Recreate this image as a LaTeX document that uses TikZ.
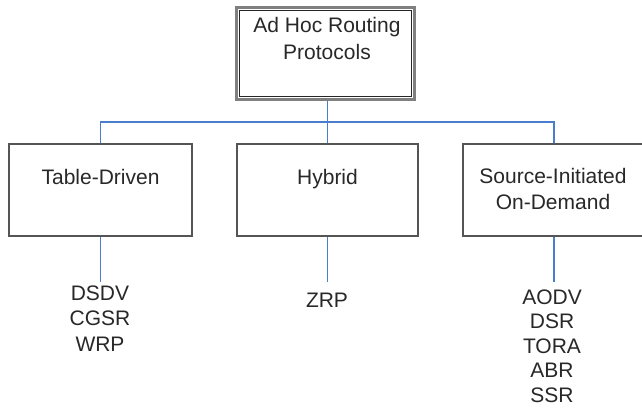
\documentclass[tikz,border=0pt]{standalone}
\usepackage{fontspec}
\setmainfont{Liberation Sans}
\definecolor{conncol}{RGB}{74,125,206}
\definecolor{boxcol}{RGB}{85,85,85}
\definecolor{txtcol}{RGB}{40,40,40}
\begin{document}
\begin{tikzpicture}[x=1pt,y=-1pt,
  box/.style={draw=boxcol, line width=2pt, fill=white, rectangle, inner sep=0pt},
  topbox/.style={draw=black!50, line width=3pt, fill=white, rectangle, inner sep=0pt},
  txt/.style={anchor=north, inner sep=0pt, align=center, text=txtcol, font=\fontsize{21}{26}\selectfont},
  conn/.style={draw=conncol, line width=1.3pt}]
\useasboundingbox (0,0) rectangle (642,408);
\fill[white] (0,0) rectangle (642,408);

% boxes
\node[topbox, minimum width=178pt, minimum height=92pt] (top) at (325.5,53.5) {};
\draw[black!85, line width=1.6pt] ([xshift=4.5pt,yshift=-4.5pt]top.north west) rectangle ([xshift=-4.5pt,yshift=4.5pt]top.south east);
\node[box, minimum width=183pt, minimum height=92pt] (td) at (100.5,190) {};
\node[box, minimum width=181pt, minimum height=92pt] (hy) at (327.5,190) {};
\node[box, minimum width=182pt, minimum height=92pt] (sd) at (554,190) {};

% texts
\node[txt] (toptext) at (327,17.5) {Ad Hoc Routing\\[1pt]Protocols};
\node[txt] (tdtext) at (100.5,169.5) {Table-Driven};
\node[txt] (hytext) at (327.5,169.5) {Hybrid};
\node[txt] (sdtext) at (553,168.5) {Source-Initiated\\On-Demand};

\node[txt, font=\fontsize{21}{25.5}\selectfont] (l1) at (100,285.5) {DSDV\\CGSR\\WRP};
\node[txt] (l2) at (327,292.5) {ZRP};
\node[txt, font=\fontsize{21}{24.5}\selectfont] (l3) at (552,289.5) {AODV\\DSR\\TORA\\ABR\\SSR};

% connectors
\coordinate (j) at (327.5,122);
\coordinate (e1) at (100.5,282);
\coordinate (e2) at (327.5,282);
\coordinate (e3) at (554,282);
\draw[conn] (top.south -| j) -- (hy.north);
\draw[conn] (td.north) |- (j) -| (sd.north);
\draw[conn] (td.south) -- (e1);
\draw[conn] (hy.south) -- (e2);
\draw[conn] (sd.south) -- (e3);
\end{tikzpicture}
\end{document}
